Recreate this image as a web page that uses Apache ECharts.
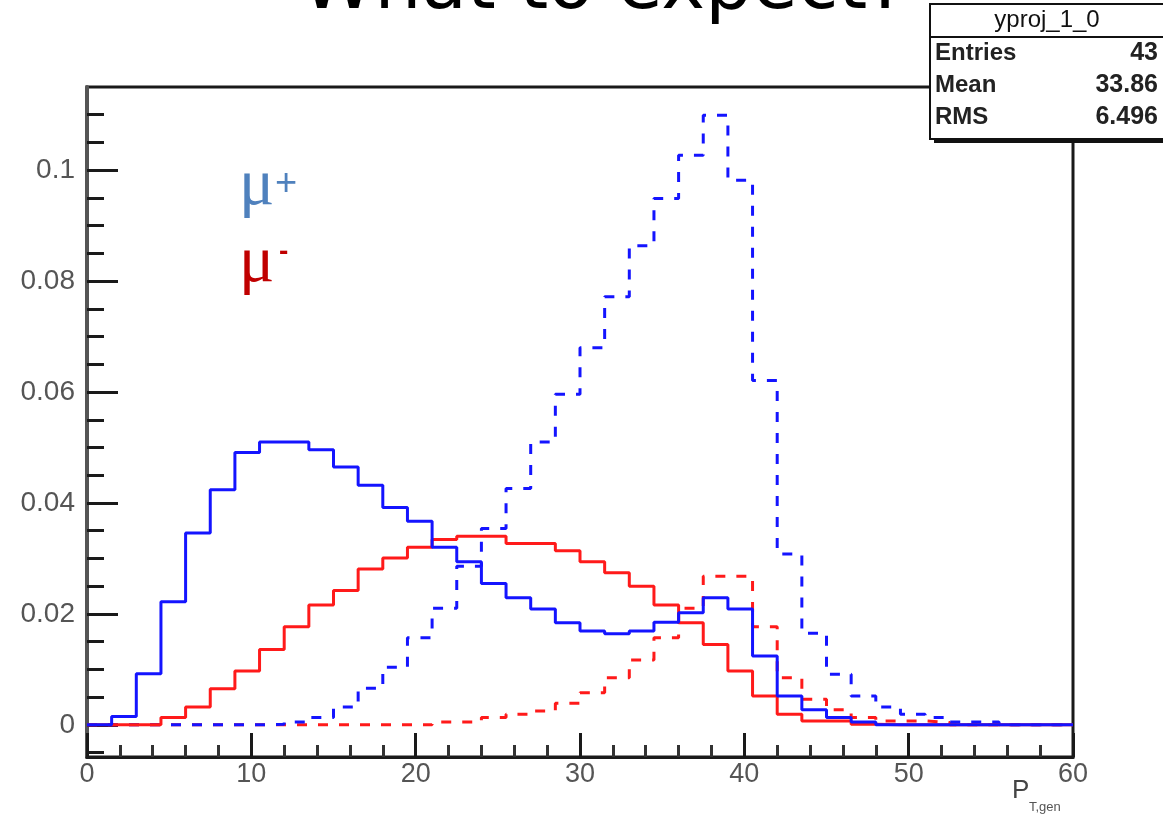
<!DOCTYPE html>
<html>
<head>
<meta charset="utf-8">
<title>What to expect?</title>
<script src="https://cdn.jsdelivr.net/npm/echarts@6/dist/echarts.min.js"></script>
<style>
  html, body { margin: 0; padding: 0; background: #fff; }
  #chart { width: 1163px; height: 816px; }
</style>
</head>
<body>
<div id="chart"></div>
<script>
// 40 bins of 1.5 from 0 to 60
const binWidth = 1.5;

// bin contents (one value per bin)
const muPlusSolid = [
  0, 0.0015, 0.0092, 0.0222, 0.0346, 0.0424, 0.0491, 0.0510, 0.0510, 0.0496,
  0.0465, 0.0432, 0.0392, 0.0367, 0.0320, 0.0294, 0.0255, 0.0229, 0.0209, 0.0184,
  0.0169, 0.0164, 0.0169, 0.0185, 0.0202, 0.0229, 0.0209, 0.0124, 0.0052, 0.0027,
  0.0013, 0.0005, 0, 0, 0, 0, 0, 0, 0, 0
];
const muMinusSolid = [
  0, 0, 0, 0.0013, 0.0032, 0.0065, 0.0097, 0.0136, 0.0177, 0.0216,
  0.0242, 0.0281, 0.0301, 0.0320, 0.0334, 0.0340, 0.0340, 0.0327, 0.0327, 0.0314,
  0.0294, 0.0274, 0.0250, 0.0216, 0.0184, 0.0145, 0.0097, 0.0052, 0.0019, 0.0007,
  0.0007, 0.0001, 0, 0, 0, 0, 0, 0, 0, 0
];
const muPlusDashed = [
  0, 0, 0, 0, 0, 0, 0, 0.0001, 0.0005, 0.0013,
  0.0032, 0.0066, 0.0104, 0.0157, 0.0210, 0.0286, 0.0354, 0.0426, 0.0510, 0.0596,
  0.0680, 0.0772, 0.0864, 0.0949, 0.1027, 0.1099, 0.0982, 0.0621, 0.0308, 0.0165,
  0.0091, 0.0052, 0.0032, 0.0019, 0.0013, 0.0005, 0.0005, 0, 0, 0
];
const muMinusDashed = [
  0, 0, 0, 0, 0, 0, 0, 0, 0, 0,
  0, 0, 0, 0, 0.0005, 0.0005, 0.0013, 0.0019, 0.0025, 0.0039,
  0.0058, 0.0085, 0.0117, 0.0157, 0.0210, 0.0268, 0.0268, 0.0177, 0.0085, 0.0046,
  0.0027, 0.0013, 0.0007, 0.0007, 0.0004, 0, 0, 0, 0, 0
];

// y ticks (ROOT style: long ticks every 0.02, short every 0.005)
const yMajorTicks = [0, 0.02, 0.04, 0.06, 0.08, 0.1];
const yMinorTicks = [-0.005, 0.005, 0.01, 0.015, 0.025, 0.03, 0.035, 0.045, 0.05, 0.055,
  0.065, 0.07, 0.075, 0.085, 0.09, 0.095, 0.105, 0.11];

const stats = [
  ['Entries', '43'],
  ['Mean', '33.86'],
  ['RMS', '6.496']
];

// histogram -> step line points on bin low edges, plus closing point on the last edge
const toSteps = (values) => {
  const pts = values.map((v, i) => [i * binWidth, v]);
  pts.push([values.length * binWidth, values[values.length - 1]]);
  return pts;
};

const BLUE = '#1414ff';
const RED = '#ff1a1a';
const AXIS_FONT = 'Liberation Sans, Arial, sans-serif';

const histSeries = (name, values, color, dashed, z) => ({
  name: name,
  type: 'line',
  step: 'end',
  symbol: 'none',
  z: z,
  data: toSteps(values),
  lineStyle: {
    color: color,
    width: 3,
    type: dashed ? [10, 11] : 'solid',
    cap: 'butt'
  }
});

const myChart = echarts.init(document.getElementById('chart'));

const statsGraphics = [];
// box shadow + box
statsGraphics.push({ type: 'rect', z: 100, shape: { x: 934, y: 8, width: 260, height: 135 }, style: { fill: '#111' } });
statsGraphics.push({ type: 'rect', z: 101, shape: { x: 930, y: 4, width: 260, height: 135 }, style: { fill: '#fff', stroke: '#111', lineWidth: 2 } });
statsGraphics.push({ type: 'line', z: 102, shape: { x1: 930, y1: 37, x2: 1163, y2: 37 }, style: { stroke: '#111', lineWidth: 2 } });
statsGraphics.push({
  type: 'text', z: 103, x: 1047, y: 20,
  style: { text: 'yproj_1_0', fontSize: 24, fontFamily: AXIS_FONT, fill: '#111', align: 'center', verticalAlign: 'middle' }
});
stats.forEach((row, i) => {
  const y = 53 + i * 32;
  statsGraphics.push({
    type: 'text', z: 103, x: 935, y: y,
    style: { text: row[0], fontSize: 24, fontWeight: 'bold', fontFamily: AXIS_FONT, fill: '#222', align: 'left', verticalAlign: 'middle' }
  });
  statsGraphics.push({
    type: 'text', z: 103, x: 1158, y: y,
    style: { text: row[1], fontSize: 25, fontWeight: 'bold', fontFamily: AXIS_FONT, fill: '#222', align: 'right', verticalAlign: 'middle' }
  });
});

const option = {
  animation: false,
  backgroundColor: '#fff',
  grid: {
    left: 87, right: 90, top: 87, bottom: 59,
    show: true,
    borderColor: '#1a1a1a',
    borderWidth: 3,
    outerBoundsMode: 'none'
  },
  xAxis: {
    type: 'value',
    min: 0,
    max: 60,
    interval: 10,
    axisLine: { show: true, onZero: false, lineStyle: { color: '#1a1a1a', width: 3 } },
    axisTick: { show: true, inside: true, length: 24, lineStyle: { color: '#1a1a1a', width: 3 } },
    minorTick: { show: true, splitNumber: 5, length: 12, lineStyle: { color: '#333', width: 3 } },
    axisLabel: { fontSize: 27, color: '#555', fontFamily: AXIS_FONT, margin: 4 },
    splitLine: { show: false }
  },
  yAxis: [
    {
      type: 'value',
      min: -0.0058,
      max: 0.115,
      axisLine: { show: true, onZero: false, lineStyle: { color: '#555', width: 4 } },
      axisTick: { show: true, inside: true, length: 31, customValues: yMajorTicks, lineStyle: { color: '#1a1a1a', width: 3 } },
      axisLabel: {
        customValues: yMajorTicks,
        fontSize: 28,
        color: '#555',
        fontFamily: AXIS_FONT,
        margin: 12,
        formatter: (v) => (v === 0 ? '0' : String(+v.toFixed(2)))
      },
      splitLine: { show: false }
    },
    {
      type: 'value',
      position: 'left',
      min: -0.0058,
      max: 0.115,
      axisLine: { show: false },
      axisTick: { show: true, inside: true, length: 17, customValues: yMinorTicks, lineStyle: { color: '#1a1a1a', width: 3 } },
      axisLabel: { show: false },
      splitLine: { show: false }
    }
  ],
  series: [
    histSeries('mu- dashed', muMinusDashed, RED, true, 2),
    histSeries('mu+ dashed', muPlusDashed, BLUE, true, 3),
    histSeries('mu- solid', muMinusSolid, RED, false, 4),
    histSeries('mu+ solid', muPlusSolid, BLUE, false, 5)
  ],
  graphic: [
    // slide title, mostly cut off at the top
    {
      type: 'text', x: 604, y: -11, z: 50,
      style: { text: 'What to expect?', fontSize: 74, fontFamily: 'DejaVu Sans, sans-serif', fill: '#000', align: 'center', verticalAlign: 'middle' }
    },
    // mu+ / mu- labels
    { type: 'text', x: 239, y: 187, z: 50, style: { text: 'μ', fontSize: 66, fontFamily: 'Liberation Serif, serif', fill: '#4f81bd', align: 'left', verticalAlign: 'middle' } },
    { type: 'text', x: 275, y: 185, z: 50, style: { text: '+', fontSize: 38, fontFamily: AXIS_FONT, fill: '#4f81bd', align: 'left', verticalAlign: 'middle' } },
    { type: 'text', x: 239, y: 264, z: 50, style: { text: 'μ', fontSize: 66, fontFamily: 'Liberation Serif, serif', fill: '#c00000', align: 'left', verticalAlign: 'middle' } },
    { type: 'text', x: 279, y: 252, z: 50, style: { text: '-', fontSize: 28, fontWeight: 'bold', fontFamily: AXIS_FONT, fill: '#c00000', align: 'left', verticalAlign: 'middle' } },
    // x axis title P_T,gen
    { type: 'text', x: 1012, y: 791, z: 50, style: { text: 'P', fontSize: 26, fontFamily: AXIS_FONT, fill: '#444', align: 'left', verticalAlign: 'middle' } },
    { type: 'text', x: 1029, y: 807, z: 50, style: { text: 'T,gen', fontSize: 13, fontFamily: AXIS_FONT, fill: '#555', align: 'left', verticalAlign: 'middle' } }
  ].concat(statsGraphics)
};

myChart.setOption(option);
</script>
</body>
</html>
